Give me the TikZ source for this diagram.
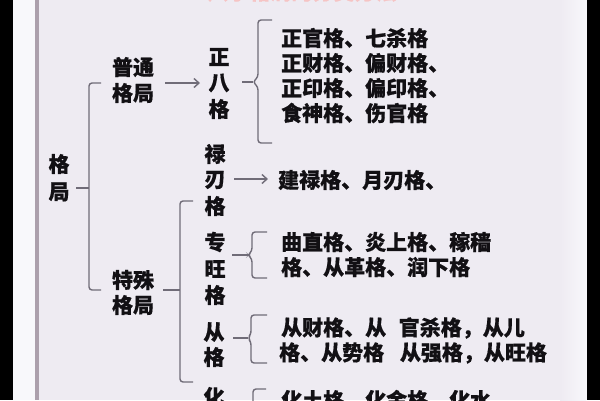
\documentclass[tikz,border=0pt]{standalone}
\usepackage{fontspec}
\setmainfont{Noto Sans CJK SC}[BoldFeatures={FakeBold=0.6}]
\usetikzlibrary{arrows.meta}
\definecolor{ybar}{RGB}{249,195,52}
\definecolor{wstrip}{RGB}{248,248,251}
\definecolor{edge}{RGB}{172,160,172}
\definecolor{paper}{RGB}{238,235,242}
\definecolor{lin}{RGB}{112,108,120}
\definecolor{ink}{RGB}{18,16,20}
\definecolor{ttl}{RGB}{246,196,196}
\begin{document}
\begin{tikzpicture}[x=1pt,y=-1pt,
  txt/.style={font=\bfseries\fontsize{21}{21}\selectfont, inner sep=0pt, text=ink},
  lft/.style={txt, anchor=west},
  brk/.style={draw=lin, line width=1.4pt, rounded corners=3pt},
  arr/.style={draw=lin, line width=1.4pt, -{Straight Barb[length=5pt,width=9pt]}}]
\useasboundingbox (0,0) rectangle (600,400);
\clip (0,0) rectangle (600,400);
% background
\fill[ybar] (0,0) rectangle (600,400);
\fill[wstrip] (13,0) rectangle (587,400);
\fill[paper] (38,0) rectangle (572,400);
\shade[left color=paper, right color=wstrip] (560,0) rectangle (586,400);
\fill[edge] (35,0) rectangle (38.5,400);
% title (cut off)
\node[txt, text=ttl, anchor=south] (title) at (302,2) {八字格局的分类方法};
% level 1
\node[txt] (g1) at (59,164) {格};
\node[txt] (g2) at (59,192) {局};
% level 2
\node[txt] (pt1) at (133,67) {普通};
\node[txt] (pt2) at (133,93) {格局};
\node[txt] (ts1) at (133,280) {特殊};
\node[txt] (ts2) at (133,305) {格局};
% level 3
\node[txt] (zb1) at (219,57) {正};
\node[txt] (zb2) at (219,83) {八};
\node[txt] (zb3) at (219,109) {格};
\node[txt] (lr1) at (215,154) {禄};
\node[txt] (lr2) at (215,180) {刃};
\node[txt] (lr3) at (215,206) {格};
\node[txt] (zw1) at (215,242) {专};
\node[txt] (zw2) at (215,269) {旺};
\node[txt] (zw3) at (215,295) {格};
\node[txt] (cg1) at (214,332) {从};
\node[txt] (cg2) at (214,357) {格};
\node[txt] (hg1) at (214,397) {化};
% leaves
\node[lft] (a1) at (281,38) {正官格、七杀格};
\node[lft] (a2) at (281,63) {正财格、偏财格、};
\node[lft] (a3) at (281,88) {正印格、偏印格、};
\node[lft] (a4) at (281,113) {食神格、伤官格};
\node[lft] (b1) at (278,180) {建禄格、月刃格、};
\node[lft] (c1) at (281,242) {曲直格、炎上格、稼穑};
\node[lft] (c2) at (281,267) {格、从革格、润下格};
\node[lft] (d1) at (281,328) {从财格、从\hspace{0.6em}官杀格，从儿};
\node[lft] (d2) at (279,353) {格、从势格\hspace{0.75em}从强格，从旺格};
\node[lft] (e1) at (281,400) {化土格、化金格、化水};
% connector coordinates
\coordinate (m0) at (76,188);
\coordinate (mt) at (101,83);
\coordinate (mb) at (101,290);
\coordinate (s0) at (163,290);
\coordinate (st) at (193,201);
\coordinate (sb) at (193,382);
% main bracket
\draw[brk] (m0) -- (89,188);
\draw[brk] (mt) -- (89,83) -- (89,290) -- (mb);
% arrow 1
\draw[arr] (165,83) coordinate (ar1s) -- (200,83) coordinate (ar1e);
% brace 1
\draw[brk] (242,82) -- (253,82);
\draw[brk] (272,20) -- (258,20) -- (258,77) -- (253,82) -- (258,87) -- (258,143) -- (272,143);
% arrow 2
\draw[arr] (234,179) coordinate (ar2s) -- (268,179) coordinate (ar2e);
% special bracket
\draw[brk] (s0) -- (180,290);
\draw[brk] (st) -- (180,201) -- (180,382) -- (sb);
% brace 2
\draw[brk] (232,255) -- (248,255);
\draw[brk] (267,232) -- (252,232) -- (252,251) -- (248,255) -- (252,259) -- (252,278) -- (267,278);
% brace 3
\draw[brk] (233,338) -- (248,338);
\draw[brk] (267,315) -- (251,315) -- (251,334) -- (248,338) -- (251,342) -- (251,363) -- (267,363);
% brace 4 (cut)
\draw[brk] (266,389) -- (253,389) -- (253,410);
\end{tikzpicture}
\end{document}
